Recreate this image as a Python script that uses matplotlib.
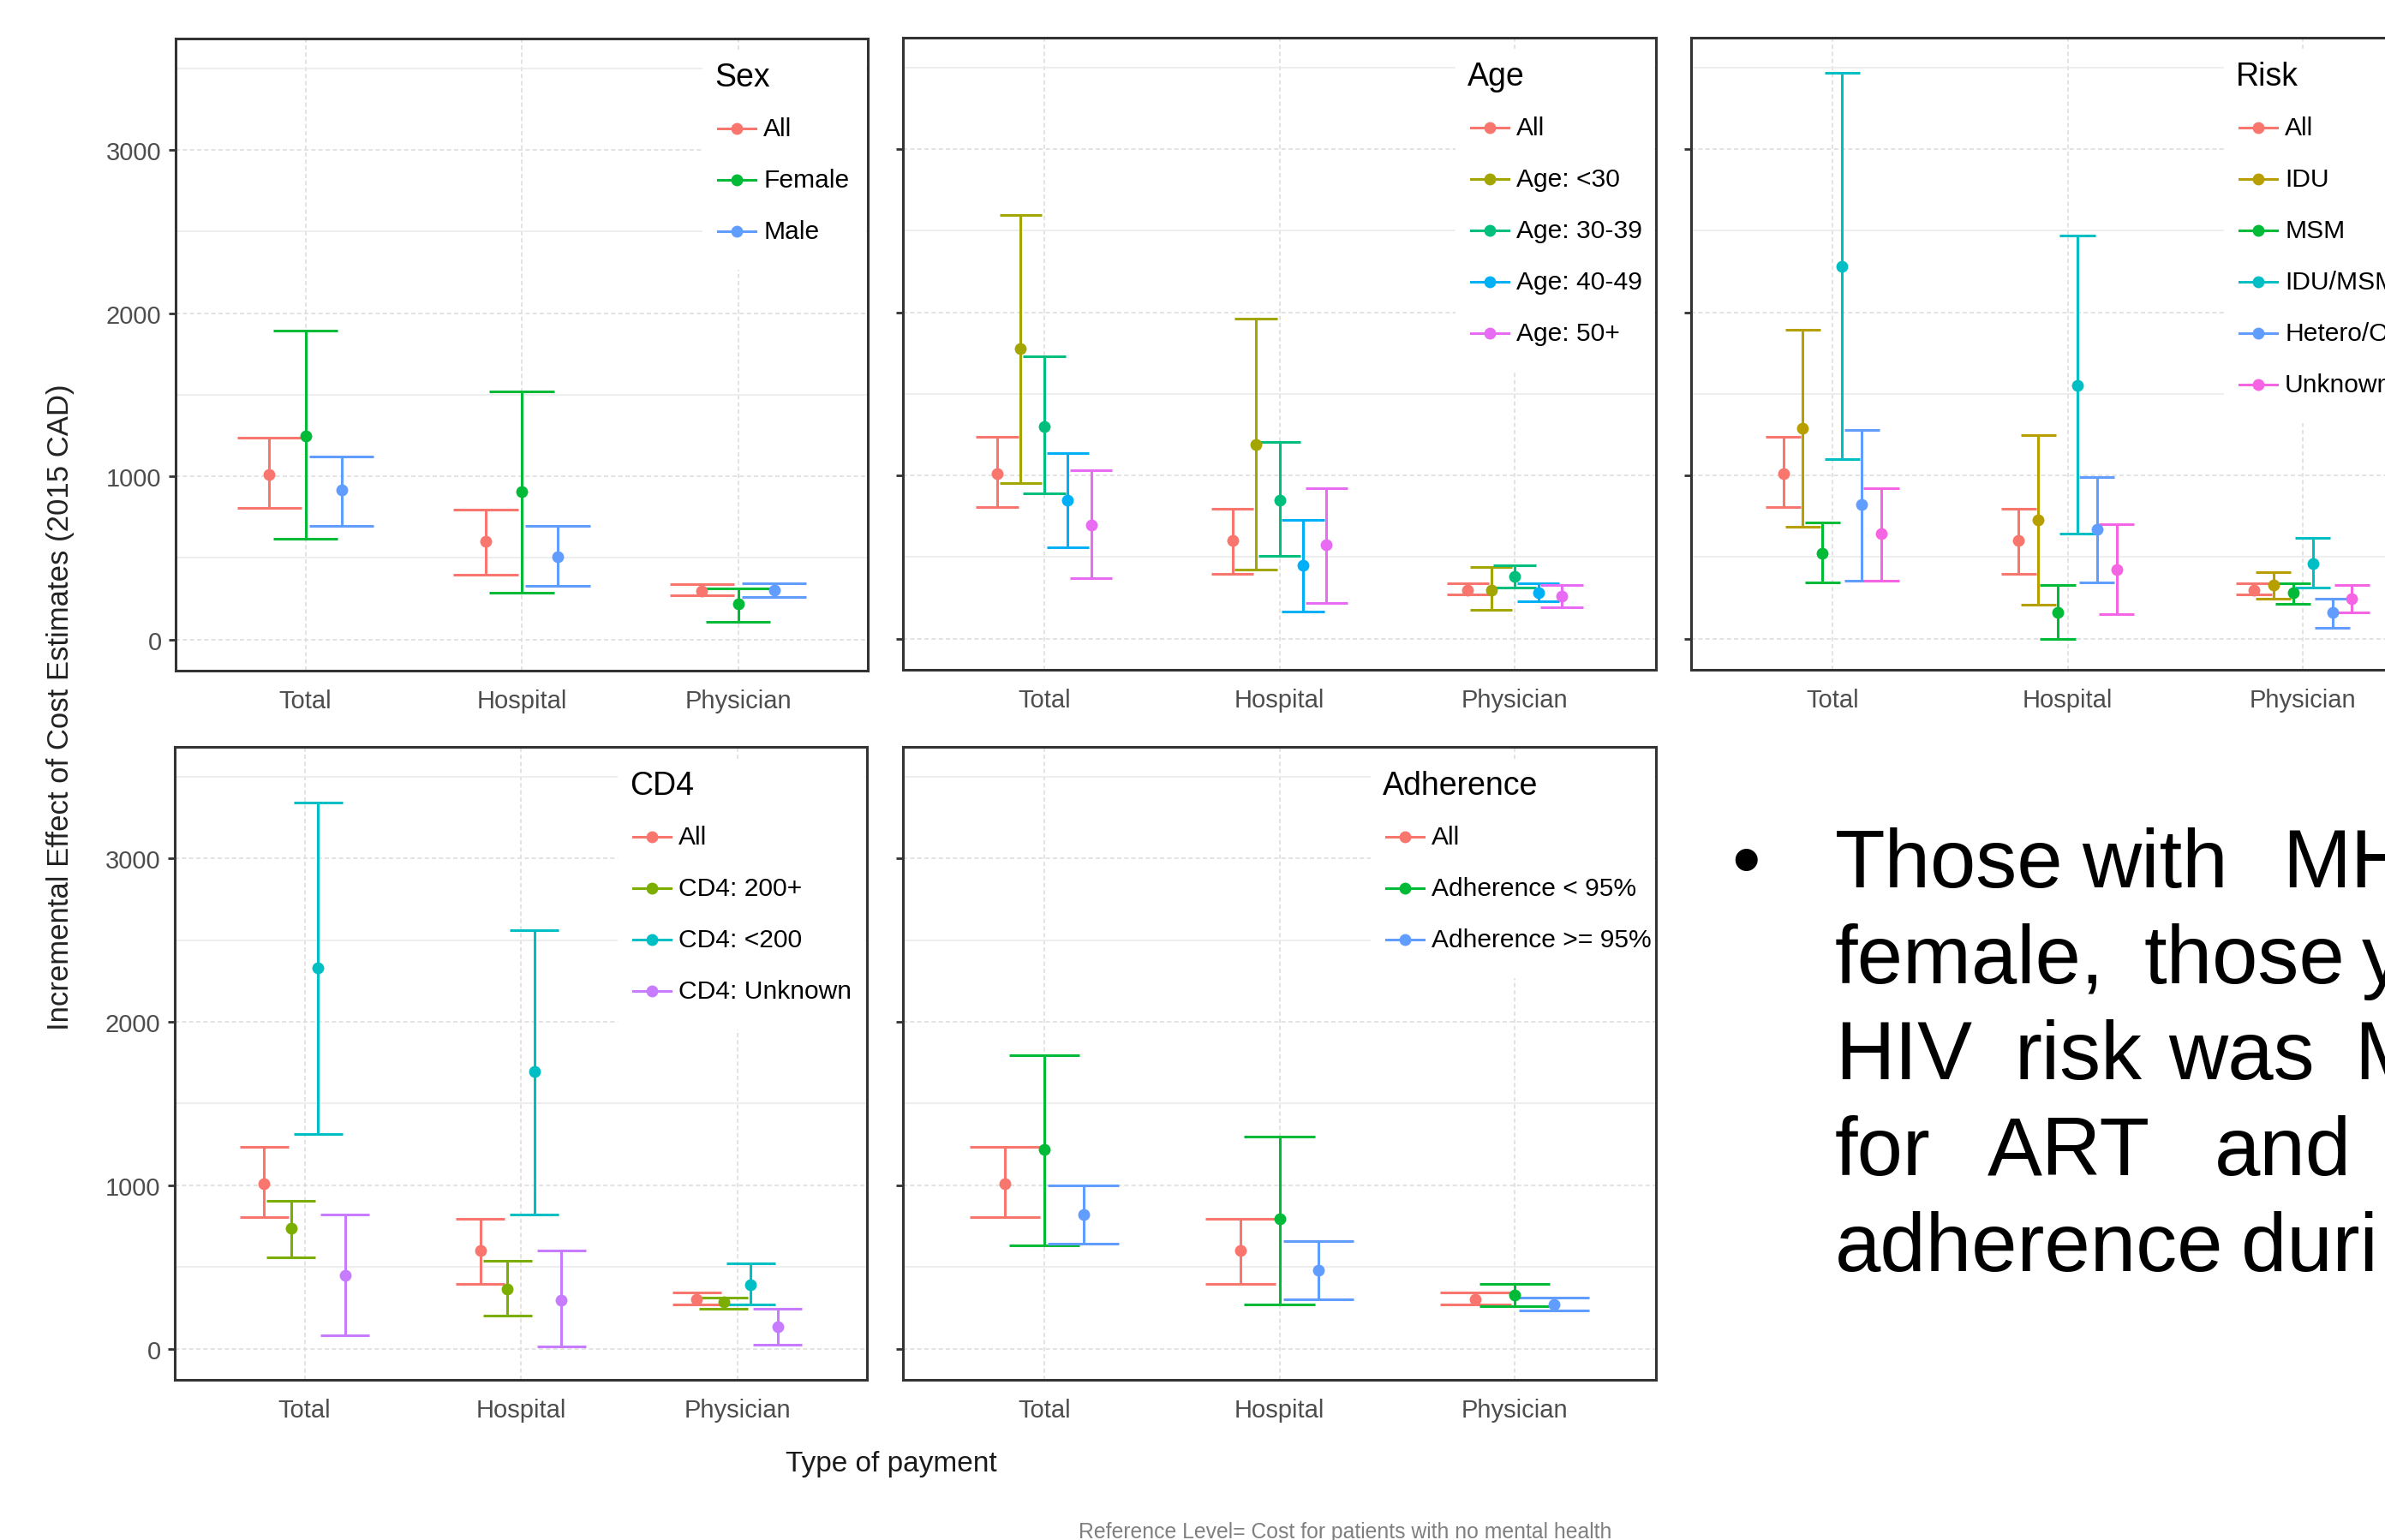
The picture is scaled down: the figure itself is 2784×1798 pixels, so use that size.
import matplotlib
matplotlib.use('Agg')
import matplotlib.pyplot as plt
from matplotlib.lines import Line2D
from matplotlib.patches import Rectangle
from matplotlib.ticker import FixedLocator

W, H, DPI = 2784, 1799, 200
plt.rcParams['font.family'] = ['Liberation Sans', 'DejaVu Sans']
fig = plt.figure(figsize=(W / DPI, H / DPI), dpi=DPI)
fig.patch.set_facecolor('white')

# ---------------- data ----------------
categories = ['Total', 'Hospital', 'Physician']
y_ticks = [0, 1000, 2000, 3000]

all_est = [1010, 602, 300]
all_lo = [808, 396, 271]
all_hi = [1235, 795, 342]

sex_labels = ['All', 'Female', 'Male']
sex_est = [all_est, [1245, 904, 219], [918, 506, 304]]
sex_lo = [all_lo, [617, 290, 111], [699, 327, 262]]
sex_hi = [all_hi, [1891, 1521, 313], [1123, 699, 344]]

age_labels = ['All', 'Age: <30', 'Age: 30-39', 'Age: 40-49', 'Age: 50+']
age_est = [all_est, [1775, 1188, 298], [1300, 850, 381], [850, 452, 284], [698, 576, 259]]
age_lo = [all_lo, [955, 423, 178], [892, 508, 313], [562, 165, 230], [372, 218, 192]]
age_hi = [all_hi, [2598, 1962, 438], [1728, 1208, 449], [1138, 727, 341], [1030, 920, 327]]

risk_labels = ['All', 'IDU', 'MSM', 'IDU/MSM', 'Hetero/Other', 'Unknown']
risk_est = [all_est, [1290, 726, 327], [522, 162, 284], [2280, 1552, 463], [823, 672, 162], [645, 425, 246]]
risk_lo = [all_lo, [688, 207, 244], [343, 0, 216], [1100, 645, 313], [358, 343, 67], [358, 150, 162]]
risk_hi = [all_hi, [1893, 1248, 409], [712, 330, 341], [3465, 2470, 618], [1278, 990, 246], [922, 700, 329]]

cd4_labels = ['All', 'CD4: 200+', 'CD4: <200', 'CD4: Unknown']
cd4_est = [all_est, [736, 368, 285], [2328, 1697, 393], [450, 298, 133]]
cd4_lo = [all_lo, [561, 203, 244], [1316, 821, 273], [82, 13, 25]]
cd4_hi = [all_hi, [904, 536, 314], [3343, 2563, 520], [821, 603, 244]]

adh_labels = ['All', 'Adherence < 95%', 'Adherence >= 95%']
adh_est = [all_est, [1218, 793, 330], [821, 479, 273]]
adh_lo = [all_lo, [631, 273, 260], [644, 301, 232]]
adh_hi = [all_hi, [1795, 1300, 396], [999, 657, 314]]

# ggplot default hue palettes
pal3 = ['#F8766D', '#00BA38', '#619CFF']
pal4 = ['#F8766D', '#7CAE00', '#00BFC4', '#C77CFF']
pal5 = ['#F8766D', '#A3A500', '#00BF7D', '#00B0F6', '#E76BF3']
pal6 = ['#F8766D', '#B79F00', '#00BA38', '#00BFC4', '#619CFF', '#F564E3']

# ---------------- helpers ----------------
def fx(x):
    return x / W

def fy(y):
    return 1 - y / H

TICK_COL = '#4D4D4D'
YLIM = (-190, 3682)

panels = [
    dict(title='Sex', labels=sex_labels, est=sex_est, lo=sex_lo, hi=sex_hi, colors=pal3,
         box=(205, 46, 1013, 784), leg_left=834, ylab=True),
    dict(title='Age', labels=age_labels, est=age_est, lo=age_lo, hi=age_hi, colors=pal5,
         box=(1054, 45, 1933, 783), leg_left=1713, ylab=False),
    dict(title='Risk', labels=risk_labels, est=risk_est, lo=risk_lo, hi=risk_hi, colors=pal6,
         box=(1974, 45, 2853, 783), leg_left=2610, ylab=False),
    dict(title='CD4', labels=cd4_labels, est=cd4_est, lo=cd4_lo, hi=cd4_hi, colors=pal4,
         box=(204, 873, 1012, 1612), leg_left=735, ylab=True),
    dict(title='Adherence', labels=adh_labels, est=adh_est, lo=adh_lo, hi=adh_hi, colors=pal3,
         box=(1054, 873, 1933, 1612), leg_left=1614, ylab=False),
]

DODGE = 0.5
EBW = 0.9
LW = 1.1
MS = 5.0

for p in panels:
    l, t, r, b = p['box']
    ax = fig.add_axes([fx(l), fy(b), (r - l) / W, (b - t) / H])
    ax.set_facecolor('white')
    n = len(p['labels'])
    cap = EBW / n
    for i in range(n):
        off = DODGE * ((i + 0.5) / n - 0.5)
        xs = [j + 1 + off for j in range(len(categories))]
        c = p['colors'][i]
        ax.vlines(xs, p['lo'][i], p['hi'][i], colors=c, lw=LW, zorder=3)
        ax.hlines(p['lo'][i], [x - cap / 2 for x in xs], [x + cap / 2 for x in xs], colors=c, lw=LW, zorder=3)
        ax.hlines(p['hi'][i], [x - cap / 2 for x in xs], [x + cap / 2 for x in xs], colors=c, lw=LW, zorder=3)
        ax.plot(xs, p['est'][i], 'o', color=c, ms=MS, mew=0, zorder=4)
    ax.set_xlim(0.4, 3.6)
    ax.set_ylim(*YLIM)
    ax.set_xticks([1, 2, 3])
    ax.set_xticklabels(categories)
    ax.yaxis.set_major_locator(FixedLocator(y_ticks))
    ax.yaxis.set_minor_locator(FixedLocator([500, 1500, 2500, 3500]))
    ax.set_axisbelow(True)
    ax.grid(which='major', color='#DEDEDE', lw=0.6, ls=(0, (3, 2)))
    ax.grid(which='minor', axis='y', color='#EBEBEB', lw=0.6, ls='-')
    ax.tick_params(axis='y', which='major', length=2.9, width=1.0, color='#333333', pad=3,
                   labelsize=10.5, labelcolor=TICK_COL, labelleft=p['ylab'])
    ax.tick_params(axis='y', which='minor', length=0)
    ax.tick_params(axis='x', length=0, pad=7.5, labelsize=10.5, labelcolor=TICK_COL)
    for s in ax.spines.values():
        s.set_color('#333333')
        s.set_linewidth(1.1)

    # legend (ggplot style, inside panel)
    L = p['leg_left']
    ty = t + 45
    nitems = n
    bg_top = ty - 30
    bg_bot = ty + 60 * nitems + 45
    fig.add_artist(Rectangle((fx(L - 14), fy(bg_bot)), (r - 2 - (L - 14)) / W, (bg_bot - bg_top) / H,
                             transform=fig.transFigure, facecolor='white', edgecolor='none', zorder=2))
    fig.text(fx(L), fy(ty), p['title'], fontsize=13.5, color='black', ha='left', va='center', zorder=3)
    for i, lab in enumerate(p['labels']):
        yy = ty + 60 * (i + 1)
        c = p['colors'][i]
        fig.add_artist(Line2D([fx(L + 4), fx(L + 48)], [fy(yy), fy(yy)], transform=fig.transFigure,
                              color=c, lw=LW, zorder=3))
        fig.add_artist(Line2D([fx(L + 26)], [fy(yy)], transform=fig.transFigure, marker='o',
                              color=c, ms=MS, mew=0, ls='none', zorder=4))
        fig.text(fx(L + 57), fy(yy), lab, fontsize=10.8, color='black', ha='left', va='center', zorder=3)

# axis titles
fig.text(fx(1040), fy(1710), 'Type of payment', fontsize=12, color='#1A1A1A', ha='center', va='center')
fig.text(fx(71), fy(826), 'Incremental Effect of Cost Estimates (2015 CAD)', fontsize=12.5,
         color='#222222', rotation=90, ha='center', va='center')
fig.text(fx(1570), fy(1789), 'Reference Level= Cost for patients with no mental health', fontsize=8.9,
         color='#7F7F7F', ha='center', va='center')

# slide text (cut at the right edge)
bullet_lines = [
    (['Those', 'with', 'MH'], [2142, 2430, 2664]),
    (['female,', 'those', 'y'], [2142, 2502, 2757]),
    (['HIV', 'risk', 'was', 'M'], [2142, 2351, 2531, 2748]),
    (['for', 'ART', 'and'], [2142, 2320, 2585]),
    (['adherence', 'duri'], [2142, 2616]),
]
base0, step = 1036, 112
for k, (words, xs) in enumerate(bullet_lines):
    yb = base0 + step * k
    for w_, x_ in zip(words, xs):
        fig.text(fx(x_), fy(yb), w_, fontsize=34.5, color='black', ha='left', va='baseline')
fig.text(fx(2038), fy(base0), '\u2022', fontsize=34.5, color='black', ha='center', va='baseline')

fig.savefig('out.png', dpi=DPI, facecolor='white')
